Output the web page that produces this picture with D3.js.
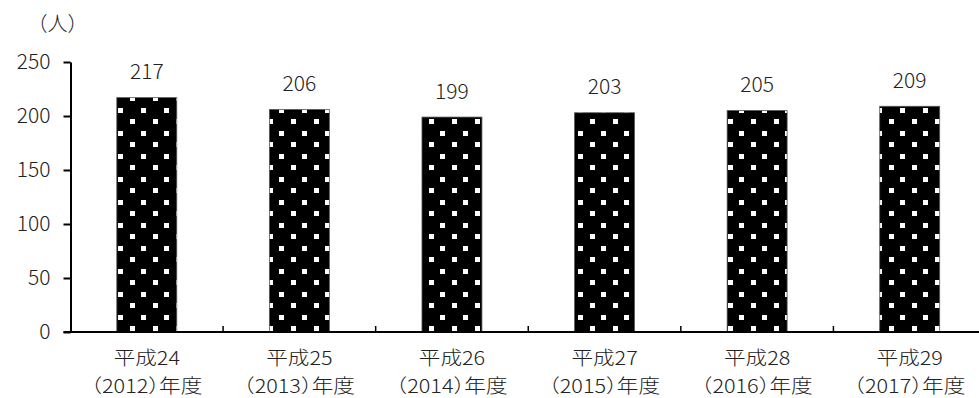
<!DOCTYPE html>
<html>
<head>
<meta charset="utf-8">
<script src="https://cdn.jsdelivr.net/npm/d3@7"></script>
<style>
  html, body { margin: 0; padding: 0; background: #fff; }
  svg { display: block; font-family: "Noto Sans CJK JP", "Noto Sans", sans-serif; font-weight: 300; }
  .cjk { font-feature-settings: "halt"; }
</style>
</head>
<body>
<svg id="chart" width="979" height="398"></svg>
<script>
// Staff counts per fiscal year
const yearLines1 = ["平成24", "平成25", "平成26", "平成27", "平成28", "平成29"];
const yearLines2 = ["（2012）年度", "（2013）年度", "（2014）年度", "（2015）年度", "（2016）年度", "（2017）年度"];
const counts = [217, 206, 199, 203, 205, 209];
const yTicks = [0, 50, 100, 150, 200, 250];
const unitLabel = "（人）";

const svg = d3.select("#chart");

const plotLeft = 70.5, plotRight = 986, plotTop = 62, plotBottom = 332;

const x = d3.scaleBand()
  .domain(yearLines1)
  .range([plotLeft, plotRight])
  .paddingInner(0.607)
  .paddingOuter(0.3035);

const y = d3.scaleLinear().domain([0, 250]).range([plotBottom, plotTop]);

// dotted fill: black ground with staggered white squares
const defs = svg.append("defs");
const pat = defs.append("pattern")
  .attr("id", "dots")
  .attr("patternUnits", "userSpaceOnUse")
  .attr("width", 23).attr("height", 23);
pat.append("rect").attr("width", 23).attr("height", 23).attr("fill", "#000");
pat.append("rect").attr("x", 15).attr("y", 4).attr("width", 5).attr("height", 5).attr("fill", "#fff");
pat.append("rect").attr("x", 3).attr("y", 16).attr("width", 5).attr("height", 5).attr("fill", "#fff");

// bars
svg.append("g").selectAll("rect")
  .data(counts)
  .join("rect")
  .attr("x", (d, i) => x(yearLines1[i]))
  .attr("y", d => y(d))
  .attr("width", x.bandwidth())
  .attr("height", d => y(0) - y(d))
  .attr("fill", "url(#dots)")
  .attr("stroke", "#555")
  .attr("stroke-width", 0.8);

// value labels
svg.append("g").selectAll("text")
  .data(counts)
  .join("text")
  .attr("x", (d, i) => x(yearLines1[i]) + x.bandwidth() / 2)
  .attr("y", d => y(d) - 18.5)
  .attr("text-anchor", "middle")
  .attr("font-size", 21)
  .attr("fill", "#222")
  .text(d => d);

// y axis
const yAxis = svg.append("g")
  .attr("transform", `translate(${plotLeft},0)`)
  .call(d3.axisLeft(y).tickValues(yTicks).tickSize(7).tickPadding(13).tickSizeOuter(0));
yAxis.select(".domain").attr("stroke", "#000").attr("stroke-width", 2);
yAxis.selectAll(".tick line").attr("stroke", "#000").attr("stroke-width", 2);
yAxis.selectAll(".tick text")
  .attr("font-size", 21)
  .attr("fill", "#222")
  .attr("font-family", "\"Noto Sans CJK JP\", sans-serif")
  .attr("font-weight", 300);

// x axis baseline with inward ticks at category boundaries
const xg = svg.append("g");
xg.append("line")
  .attr("x1", plotLeft - 7).attr("x2", plotRight)
  .attr("y1", y(0)).attr("y2", y(0))
  .attr("stroke", "#000").attr("stroke-width", 2);
const step = x.step();
xg.selectAll("line.tick")
  .data(yearLines1)
  .join("line")
  .attr("class", "tick")
  .attr("x1", (d, i) => plotLeft + step * (i + 1))
  .attr("x2", (d, i) => plotLeft + step * (i + 1))
  .attr("y1", y(0)).attr("y2", y(0) - 6)
  .attr("stroke", "#000").attr("stroke-width", 1.5);

// category labels: era year over the western year, slightly widened glyphs
const cat = xg.selectAll("g.cat")
  .data(yearLines1)
  .join("g")
  .attr("class", "cat cjk")
  .attr("transform", d => `translate(${x(d) + x.bandwidth() / 2},0) scale(1.15,1)`);
cat.append("text")
  .attr("y", 365.5)
  .attr("text-anchor", "middle")
  .attr("font-size", 18.8)
  .attr("fill", "#222")
  .text(d => d);
cat.append("text")
  .attr("y", 393)
  .attr("text-anchor", "middle")
  .attr("font-size", 18.8)
  .attr("fill", "#222")
  .text((d, i) => yearLines2[i]);

// unit label
svg.append("text")
  .attr("class", "cjk")
  .attr("x", 57.5).attr("y", 31)
  .attr("text-anchor", "middle")
  .attr("font-size", 20)
  .attr("fill", "#222")
  .text(unitLabel);
</script>
</body>
</html>
